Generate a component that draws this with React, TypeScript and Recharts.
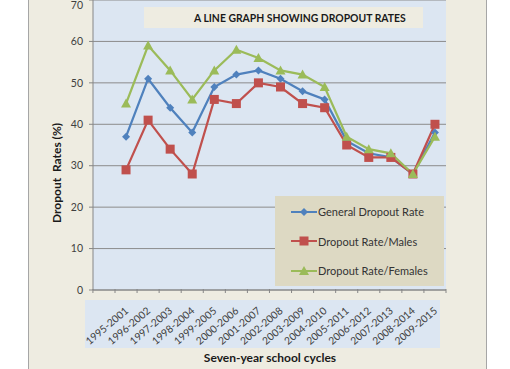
import { LineChart, Line, XAxis, YAxis, CartesianGrid, Legend } from "recharts";

const cycles = [
  "1995-2001", "1996-2002", "1997-2003", "1998-2004", "1999-2005",
  "2000-2006", "2001-2007", "2002-2008", "2003-2009", "2004-2010",
  "2005-2011", "2006-2012", "2007-2013", "2008-2014", "2009-2015",
];
const generalRate = [37, 51, 44, 38, 49, 52, 53, 51, 48, 46, 36, 33, 32, 28, 38];
const maleRate = [29, 41, 34, 28, 46, 45, 50, 49, 45, 44, 35, 32, 32, 28, 40];
const femaleRate = [45, 59, 53, 46, 53, 58, 56, 53, 52, 49, 37, 34, 33, 28, 37];
const yTicks = [0, 10, 20, 30, 40, 50, 60, 70];
const seriesOrder = ["general", "males", "females"];

const BLUE = "#4f81bd";
const RED = "#c0504d";
const GREEN = "#9bbb59";
const AXIS = "#868686";
const FONT = "Lato, 'Open Sans', sans-serif";

const rows = cycles.map((c, i) => ({
  cycle: c,
  general: generalRate[i],
  males: maleRate[i],
  females: femaleRate[i],
}));

function Marker({ kind, cx, cy, color }: { kind: string; cx: number; cy: number; color: string }) {
  if (kind === "diamond") {
    return <path d={`M${cx},${cy - 4}L${cx + 4},${cy}L${cx},${cy + 4}L${cx - 4},${cy}Z`} fill={color} />;
  }
  if (kind === "square") {
    return <rect x={cx - 4.5} y={cy - 4.5} width={9} height={9} fill={color} />;
  }
  return <path d={`M${cx},${cy - 5}L${cx + 5},${cy + 4}L${cx - 5},${cy + 4}Z`} fill={color} />;
}

const markerOf: Record<string, string> = { general: "diamond", males: "square", females: "triangle" };

const dotFn = (kind: string, color: string) => (p: any) =>
  <Marker key={`${kind}-${p.index}`} kind={kind} cx={p.cx} cy={p.cy} color={color} />;

// label plus tick marks on the slot edges (excel style "between" ticks)
const CycleTick = (props: any) => {
  const { x, y, payload, index } = props;
  const half = payload.offset || 0;
  const ay = y - 1;
  const edges = [x - half];
  if (index === 0) edges.push(x - 3 * half);
  if (index === cycles.length - 1) edges.push(x + half);
  const tx = x + 3;
  const ty = y + 22;
  return (
    <g>
      {edges.map((ex, k) => (
        <line key={k} x1={ex} y1={ay} x2={ex} y2={ay + 4} stroke={AXIS} />
      ))}
      <text x={tx} y={ty} transform={`rotate(-40, ${tx}, ${ty})`} textAnchor="end" fontSize={10.3} fill="#404040">
        {payload.value}
      </text>
    </g>
  );
};

const LegendBox = (props: any) => {
  const items = [...(props.payload || [])].sort(
    (a: any, b: any) => seriesOrder.indexOf(a.dataKey) - seriesOrder.indexOf(b.dataKey)
  );
  return (
    <div style={{ paddingTop: 1 }}>
      {items.map((e: any) => (
        <div key={e.dataKey} style={{ display: "flex", alignItems: "center", height: 29.5, marginLeft: 16 }}>
          <svg width={26} height={12} style={{ display: "block" }}>
            <line x1={0} y1={6} x2={26} y2={6} stroke={e.color} strokeWidth={2} />
            <Marker kind={markerOf[e.dataKey]} cx={13} cy={6} color={e.color} />
          </svg>
          <span style={{ fontSize: 11, color: "#333", marginLeft: 1 }}>{e.value}</span>
        </div>
      ))}
    </div>
  );
};

export default function App() {
  return (
    <div style={{ position: "absolute", left: 0, top: 0, width: 510, height: 369, overflow: "hidden", fontFamily: FONT, background: "#fff" }}>
      <div style={{ position: "absolute", left: 28, top: -5, width: 457, height: 380, background: "#eeece1", border: "1px solid #a6a6a6" }} />
      <div style={{ position: "absolute", left: 85, top: 300, width: 355, height: 48, background: "#dce6f2" }} />
      <div style={{ position: "absolute", left: 0, top: 0 }}>
        <LineChart width={510} height={369} data={rows} margin={{ top: 0, right: 64, bottom: 78, left: 53 }}>
          <CartesianGrid vertical={false} fill="#dce6f2" stroke="#8c8c8c" strokeWidth={1} />
          <XAxis
            dataKey="cycle"
            scale="band"
            padding={{ left: 22, right: 0 }}
            height={1}
            tickSize={0}
            tickMargin={0}
            tickLine={false}
            interval={0}
            axisLine={{ stroke: AXIS }}
            tick={<CycleTick />}
          />
          <YAxis
            width={40}
            domain={[0, 70]}
            ticks={yTicks}
            tickSize={4}
            tickMargin={6}
            tick={{ fontSize: 10.5, fill: "#404040" }}
            tickLine={{ stroke: AXIS }}
            axisLine={{ stroke: AXIS }}
          />
          <Legend
            layout="vertical"
            align="center"
            verticalAlign="middle"
            content={<LegendBox />}
            wrapperStyle={{ left: 275, top: 196, width: 169, height: 90, background: "#ddd9c3" }}
          />
          <Line dataKey="general" name="General Dropout Rate" stroke={BLUE} strokeWidth={2.25} dot={dotFn("diamond", BLUE)} activeDot={false} isAnimationActive={false} />
          <Line dataKey="males" name="Dropout Rate/Males" stroke={RED} strokeWidth={2.25} dot={dotFn("square", RED)} activeDot={false} isAnimationActive={false} />
          <Line dataKey="females" name="Dropout Rate/Females" stroke={GREEN} strokeWidth={2.25} dot={dotFn("triangle", GREEN)} activeDot={false} isAnimationActive={false} />
        </LineChart>
      </div>
      <div style={{ position: "absolute", left: 144, top: 7, width: 279, height: 21, background: "#eeece1", boxSizing: "border-box", paddingLeft: 50, lineHeight: "22px", fontSize: 10.4, fontWeight: 700, color: "#1a1a1a", whiteSpace: "nowrap" }}>
        A LINE GRAPH SHOWING DROPOUT RATES
      </div>
      <div style={{ position: "absolute", left: 56, top: 173, transform: "translate(-50%, -50%) rotate(-90deg)", fontSize: 12, fontWeight: 700, color: "#1a1a1a", whiteSpace: "pre" }}>
        {"Dropout  Rates (%)"}
      </div>
      <div style={{ position: "absolute", left: 270, top: 357, transform: "translate(-50%, -50%)", fontSize: 12, fontWeight: 700, color: "#1a1a1a", whiteSpace: "nowrap" }}>
        Seven-year school cycles
      </div>
    </div>
  );
}
